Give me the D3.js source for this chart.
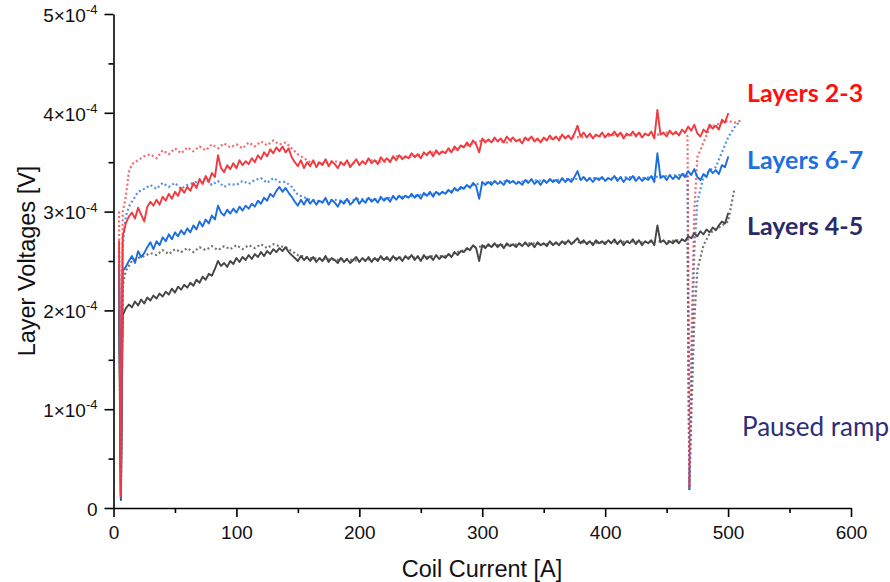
<!DOCTYPE html>
<html>
<head>
<meta charset="utf-8">
<script src="https://cdn.jsdelivr.net/npm/d3@7"></script>
<style>
  html, body { margin: 0; padding: 0; background: #ffffff; }
  svg { display: block; }
</style>
</head>
<body>
<script>
// ---------- DATA (voltages in units of 1e-4 V) ----------
const xTicksMajor = [0, 100, 200, 300, 400, 500, 600];
const xTicksMinor = [50, 150, 250, 350, 450, 550];
const yTicksMajor = [0, 1, 2, 3, 4, 5];
const yTicksMinor = [0.5, 1.5, 2.5, 3.5, 4.5];

const seriesNames = ["Layers 2-3", "Layers 6-7", "Layers 4-5"];

// coil current for the solid traces (first ramp)
const xSolid = [4.5, 6, 7.5,
  10, 12.5, 15, 17.5, 20, 22.5, 25, 27.5, 30, 32.5,
  35, 37.5, 40, 42.5, 45, 47.5, 50, 52.5, 55, 57.5,
  60, 62.5, 65, 67.5, 70, 72.5, 75, 77.5, 80, 82.5,
  85, 87.5, 90, 92.5, 95, 97.5, 100, 102.5, 105, 107.5,
  110, 112.5, 115, 117.5, 120, 122.5, 125, 127.5, 130, 132.5,
  135, 137.5, 140, 142.5, 145, 147.5, 150, 152.5, 155, 157.5,
  160, 162.5, 165, 167.5, 170, 172.5, 175, 177.5, 180, 182.5,
  185, 187.5, 190, 192.5, 195, 197.5, 200, 202.5, 205, 207.5,
  210, 212.5, 215, 217.5, 220, 222.5, 225, 227.5, 230, 232.5,
  235, 237.5, 240, 242.5, 245, 247.5, 250, 252.5, 255, 257.5,
  260, 262.5, 265, 267.5, 270, 272.5, 275, 277.5, 280, 282.5,
  285, 287.5, 290, 292.5, 295, 297.5, 300, 302.5, 305, 307.5,
  310, 312.5, 315, 317.5, 320, 322.5, 325, 327.5, 330, 332.5,
  335, 337.5, 340, 342.5, 345, 347.5, 350, 352.5, 355, 357.5,
  360, 362.5, 365, 367.5, 370, 372.5, 375, 377.5, 380, 382.5,
  385, 387.5, 390, 392.5, 395, 397.5, 400, 402.5, 405, 407.5,
  410, 412.5, 415, 417.5, 420, 422.5, 425, 427.5, 430, 432.5,
  435, 437.5, 440, 442.5, 445, 447.5, 450, 452.5, 455, 457.5,
  460, 462.5, 465, 467.5, 470, 472.5, 475, 477.5, 480, 482.5,
  485, 487.5, 490, 492.5, 495, 497.5, 500];

const redSolid = [2.70, 0.12, 2.75,
  2.88, 2.95, 2.99, 2.93, 3.04, 2.97, 2.90, 3.05, 3.10, 3.06,
  3.12, 3.07, 3.15, 3.11, 3.18, 3.13, 3.20, 3.16, 3.24, 3.19,
  3.25, 3.21, 3.29, 3.24, 3.33, 3.28, 3.36, 3.30, 3.39, 3.35,
  3.57, 3.44, 3.40, 3.47, 3.43, 3.49, 3.44, 3.52, 3.47, 3.51,
  3.48, 3.54, 3.50, 3.57, 3.53, 3.60, 3.56, 3.63, 3.59, 3.65,
  3.61, 3.66, 3.60, 3.64, 3.55, 3.50, 3.46, 3.52, 3.44, 3.50,
  3.46, 3.52, 3.45, 3.50, 3.47, 3.53, 3.46, 3.51, 3.48, 3.44,
  3.50, 3.47, 3.52, 3.45, 3.49, 3.53, 3.47, 3.51, 3.48, 3.54,
  3.49, 3.52, 3.48, 3.55, 3.51, 3.54, 3.50, 3.56, 3.52, 3.57,
  3.53, 3.56, 3.54, 3.59, 3.55, 3.58, 3.54, 3.60, 3.57, 3.61,
  3.56, 3.62, 3.58, 3.61, 3.59, 3.64, 3.60, 3.66, 3.62, 3.67,
  3.65, 3.70, 3.66, 3.72, 3.68, 3.60, 3.74, 3.70, 3.73, 3.70,
  3.75, 3.71, 3.74, 3.70, 3.76, 3.72, 3.75, 3.71, 3.73, 3.69,
  3.75, 3.72, 3.76, 3.71, 3.74, 3.70, 3.75, 3.72, 3.77, 3.73,
  3.76, 3.72, 3.78, 3.74, 3.77, 3.73, 3.79, 3.87, 3.76, 3.80,
  3.75, 3.79, 3.74, 3.78, 3.76, 3.80, 3.75, 3.79, 3.77, 3.81,
  3.76, 3.80, 3.74, 3.79, 3.77, 3.81, 3.76, 3.80, 3.75, 3.79,
  3.77, 3.81, 3.74, 4.03, 3.78, 3.80, 3.76, 3.82, 3.78, 3.81,
  3.77, 3.83, 3.80, 3.86, 3.82, 3.88, 3.79, 3.76, 3.83, 3.80,
  3.88, 3.84, 3.87, 3.83, 3.93, 3.90, 3.99];

const blueSolid = [2.45, 0.10, 2.40,
  2.44, 2.50, 2.55, 2.48, 2.60, 2.54, 2.58, 2.64, 2.69, 2.62,
  2.70, 2.66, 2.74, 2.70, 2.77, 2.72, 2.79, 2.75, 2.81, 2.77,
  2.83, 2.79, 2.86, 2.82, 2.90, 2.85, 2.92, 2.88, 2.96, 2.92,
  3.06, 2.99, 2.96, 3.02, 2.98, 3.03, 2.99, 3.05, 3.01, 3.06,
  3.03, 3.08, 3.05, 3.11, 3.08, 3.14, 3.11, 3.18, 3.15, 3.21,
  3.25, 3.20, 3.24, 3.19, 3.15, 3.10, 3.06, 3.12, 3.07, 3.13,
  3.08, 3.12, 3.07, 3.11, 3.09, 3.14, 3.07, 3.12, 3.09, 3.05,
  3.11, 3.08, 3.13, 3.07, 3.10, 3.14, 3.08, 3.12, 3.09, 3.14,
  3.10, 3.13, 3.09, 3.15, 3.11, 3.14, 3.10, 3.16, 3.12, 3.16,
  3.13, 3.16, 3.14, 3.18, 3.14, 3.17, 3.13, 3.19, 3.16, 3.20,
  3.15, 3.20, 3.17, 3.20, 3.18, 3.22, 3.19, 3.24, 3.21, 3.25,
  3.23, 3.27, 3.24, 3.29, 3.26, 3.13, 3.30, 3.27, 3.30, 3.27,
  3.31, 3.28, 3.30, 3.27, 3.32, 3.29, 3.31, 3.28, 3.30, 3.27,
  3.32, 3.29, 3.33, 3.28, 3.31, 3.27, 3.32, 3.29, 3.33, 3.30,
  3.32, 3.29, 3.34, 3.30, 3.33, 3.30, 3.35, 3.41, 3.32, 3.35,
  3.31, 3.34, 3.30, 3.34, 3.32, 3.35, 3.31, 3.34, 3.32, 3.36,
  3.31, 3.35, 3.30, 3.34, 3.32, 3.36, 3.31, 3.35, 3.31, 3.34,
  3.32, 3.36, 3.30, 3.59, 3.34, 3.36, 3.32, 3.37, 3.33, 3.36,
  3.33, 3.38, 3.35, 3.41, 3.37, 3.43, 3.35, 3.32, 3.38, 3.35,
  3.43, 3.39, 3.42, 3.38, 3.47, 3.45, 3.55];

const graySolid = [2.00, 0.08, 1.95,
  2.02, 2.06, 2.03, 2.09, 2.05, 2.11, 2.07, 2.13, 2.10, 2.15,
  2.12, 2.17, 2.14, 2.19, 2.16, 2.22, 2.18, 2.24, 2.21, 2.26,
  2.23, 2.28, 2.25, 2.31, 2.28, 2.34, 2.31, 2.37, 2.35, 2.42,
  2.50, 2.45, 2.48, 2.44, 2.50, 2.47, 2.53, 2.49, 2.54, 2.51,
  2.56, 2.52, 2.57, 2.54, 2.59, 2.55, 2.60, 2.57, 2.62, 2.59,
  2.63, 2.60, 2.64, 2.59, 2.56, 2.53, 2.50, 2.55, 2.51, 2.54,
  2.50, 2.54, 2.49, 2.53, 2.50, 2.55, 2.49, 2.53, 2.51, 2.48,
  2.53, 2.49, 2.52, 2.48, 2.51, 2.54, 2.49, 2.53, 2.50, 2.54,
  2.49, 2.53, 2.50, 2.55, 2.51, 2.54, 2.50, 2.55, 2.51, 2.54,
  2.50, 2.55, 2.52, 2.56, 2.51, 2.55, 2.50, 2.56, 2.52, 2.55,
  2.51, 2.56, 2.52, 2.55, 2.53, 2.57, 2.54, 2.59, 2.56, 2.60,
  2.59, 2.63, 2.61, 2.66, 2.63, 2.50, 2.66, 2.63, 2.67, 2.64,
  2.68, 2.64, 2.67, 2.63, 2.68, 2.65, 2.67, 2.64, 2.68, 2.65,
  2.69, 2.65, 2.68, 2.64, 2.69, 2.66, 2.68, 2.65, 2.70, 2.66,
  2.69, 2.66, 2.70, 2.67, 2.71, 2.67, 2.70, 2.73, 2.68, 2.71,
  2.67, 2.70, 2.66, 2.71, 2.68, 2.70, 2.67, 2.71, 2.68, 2.72,
  2.67, 2.71, 2.66, 2.70, 2.68, 2.72, 2.67, 2.71, 2.66, 2.70,
  2.68, 2.71, 2.66, 2.86, 2.69, 2.71, 2.67, 2.70, 2.68, 2.71,
  2.68, 2.72, 2.70, 2.75, 2.73, 2.78, 2.75, 2.80, 2.77, 2.82,
  2.79, 2.84, 2.81, 2.86, 2.90, 2.88, 2.98];

// coil current for the dotted traces (second ramp, with the pause near 468 A)
const xDotted = [4.5, 6, 7.5, 10, 12.5, 15, 20, 25, 30, 35, 40, 45, 50, 55, 60, 65, 70, 75, 80, 85, 90, 95,
  100, 105, 110, 115, 120, 125, 130, 135, 140, 145, 150, 160, 170, 180, 190, 200, 210, 220, 230, 240, 250,
  260, 270, 280, 290, 300, 310, 320, 330, 340, 350, 360, 370, 380, 390, 400, 410, 420, 430, 440, 450, 460,
  465, 467, 468.5, 470, 472.5, 475, 480, 485, 490, 495, 500, 505, 510];

const redDotted = [3.00, 0.15, 3.00, 3.15, 3.40, 3.48, 3.52, 3.56, 3.58, 3.54, 3.62, 3.58, 3.64, 3.59, 3.65, 3.61, 3.66, 3.62, 3.68, 3.64, 3.69, 3.65,
  3.68, 3.64, 3.70, 3.66, 3.71, 3.67, 3.72, 3.68, 3.70, 3.64, 3.58, 3.50, 3.49, 3.51, 3.48, 3.50, 3.52, 3.50, 3.56, 3.55, 3.58,
  3.60, 3.60, 3.64, 3.68, 3.72, 3.72, 3.70, 3.73, 3.74, 3.72, 3.75, 3.76, 3.75, 3.77, 3.76, 3.78, 3.77, 3.79, 3.77, 3.80, 3.79,
  3.80, 3.76, 0.20, 1.60, 3.00, 3.55, 3.70, 3.85, 3.88, 3.90, 3.92, 3.90, 3.92];

const blueDotted = [2.60, 0.12, 2.65, 2.95, 3.05, 3.10, 3.20, 3.23, 3.27, 3.23, 3.29, 3.25, 3.29, 3.23, 3.27, 3.29, 3.31, 3.33, 3.27, 3.31, 3.25, 3.28,
  3.27, 3.31, 3.28, 3.32, 3.34, 3.29, 3.34, 3.30, 3.30, 3.25, 3.17, 3.12, 3.10, 3.12, 3.10, 3.13, 3.12, 3.13, 3.15, 3.15, 3.17,
  3.18, 3.20, 3.22, 3.26, 3.29, 3.30, 3.31, 3.30, 3.32, 3.31, 3.32, 3.33, 3.33, 3.34, 3.33, 3.34, 3.35, 3.34, 3.35, 3.36, 3.37,
  3.38, 3.35, 0.18, 1.20, 2.60, 3.10, 3.35, 3.42, 3.45, 3.60, 3.75, 3.85, 3.92];

const grayDotted = [2.30, 0.10, 2.25, 2.40, 2.45, 2.50, 2.53, 2.55, 2.58, 2.56, 2.61, 2.57, 2.62, 2.59, 2.63, 2.59, 2.64, 2.61, 2.65, 2.61, 2.65, 2.62,
  2.66, 2.62, 2.66, 2.63, 2.67, 2.63, 2.67, 2.65, 2.64, 2.60, 2.56, 2.53, 2.52, 2.51, 2.52, 2.50, 2.52, 2.52, 2.53, 2.54, 2.53,
  2.55, 2.55, 2.59, 2.63, 2.65, 2.66, 2.66, 2.67, 2.68, 2.67, 2.68, 2.69, 2.69, 2.68, 2.69, 2.69, 2.70, 2.69, 2.70, 2.70, 2.71,
  2.72, 2.70, 0.18, 0.90, 1.90, 2.41, 2.66, 2.78, 2.82, 2.86, 2.90, 3.22, null];

// ---------- CHART ----------
const W = 890, H = 582;
const svg = d3.select("body").append("svg").attr("width", W).attr("height", H);

const x = d3.scaleLinear().domain([0, 600]).range([113.5, 851]);
const y = d3.scaleLinear().domain([0, 5]).range([508, 14]);

const colors = { red: "#ef3b3f", blue: "#1c6ddf", gray: "#454545" };

function pairs(xs, ys) { return xs.map((v, i) => [v, ys[i]]); }

const line = d3.line()
  .defined(d => d[1] !== null)
  .x(d => x(d[0]))
  .y(d => y(d[1]));

const traces = [
  { xs: xDotted, ys: grayDotted, color: colors.gray, dotted: true },
  { xs: xDotted, ys: blueDotted, color: colors.blue, dotted: true },
  { xs: xDotted, ys: redDotted, color: colors.red, dotted: true },
  { xs: xSolid, ys: graySolid, color: colors.gray, dotted: false },
  { xs: xSolid, ys: blueSolid, color: colors.blue, dotted: false },
  { xs: xSolid, ys: redSolid, color: colors.red, dotted: false }
];

svg.append("g").selectAll("path")
  .data(traces)
  .join("path")
  .attr("d", d => line(pairs(d.xs, d.ys)))
  .attr("fill", "none")
  .attr("stroke", d => d.color)
  .attr("stroke-width", d => d.dotted ? 2.2 : 1.9)
  .attr("stroke-linejoin", "round")
  .attr("stroke-linecap", d => d.dotted ? "butt" : "round")
  .attr("stroke-dasharray", d => d.dotted ? "2,2.5" : null)
  .attr("opacity", d => d.dotted ? 0.75 : 1);

// ---------- AXES ----------
const tickFont = "'Liberation Sans', Arial, sans-serif";

svg.append("g").attr("transform", `translate(0,${y(0)})`)
  .call(d3.axisBottom(x).tickValues(xTicksMajor).tickSize(9).tickSizeOuter(0).tickPadding(9).tickFormat(d3.format("d")));
svg.append("g").attr("transform", `translate(0,${y(0)})`)
  .call(d3.axisBottom(x).tickValues(xTicksMinor).tickSize(5).tickFormat(""))
  .call(g => g.select(".domain").remove());

const yAxisG = svg.append("g").attr("transform", `translate(${x(0)},0)`)
  .call(d3.axisLeft(y).tickValues(yTicksMajor).tickSize(9).tickSizeOuter(0).tickPadding(7).tickFormat(d => d === 0 ? "0" : d + "×10"));
svg.append("g").attr("transform", `translate(${x(0)},0)`)
  .call(d3.axisLeft(y).tickValues(yTicksMinor).tickSize(5).tickFormat(""))
  .call(g => g.select(".domain").remove());

svg.selectAll(".domain, .tick line").attr("stroke", "#000").attr("stroke-width", 1.6);
svg.selectAll(".tick text").attr("font-family", tickFont).attr("font-size", 19).attr("fill", "#111");

// superscript exponent on y labels
yAxisG.selectAll(".tick text").each(function(d) {
  if (d === 0) return;
  const t = d3.select(this);
  t.text(null);
  t.append("tspan").text(d + "×10");
  t.append("tspan").text("-4").attr("font-size", 13).attr("dy", "-0.6em");
});
yAxisG.selectAll(".tick text").attr("dy", "0.38em");

// axis titles
svg.append("text")
  .attr("x", 482).attr("y", 577)
  .attr("text-anchor", "middle")
  .attr("font-family", tickFont).attr("font-size", 23.5).attr("fill", "#111")
  .text("Coil Current [A]");

svg.append("text")
  .attr("transform", "translate(35,261) rotate(-90)")
  .attr("text-anchor", "middle")
  .attr("font-family", tickFont).attr("font-size", 23.5).attr("fill", "#111")
  .text("Layer Voltages [V]");

// series labels
const labelFont = "Lato, 'Open Sans', sans-serif";
const labels = [
  { text: seriesNames[0], y: 102, color: "#ff1010" },
  { text: seriesNames[1], y: 169, color: "#1f6fe0" },
  { text: seriesNames[2], y: 235, color: "#2a2a6a" }
];
svg.append("g").selectAll("text").data(labels).join("text")
  .attr("x", 747).attr("y", d => d.y)
  .attr("font-family", labelFont).attr("font-weight", "bold").attr("font-size", 25)
  .attr("fill", d => d.color)
  .text(d => d.text);

svg.append("text")
  .attr("x", 742).attr("y", 436)
  .attr("font-family", labelFont).attr("font-size", 26)
  .attr("fill", "#2e2e78")
  .text("Paused ramp");
</script>
</body>
</html>
